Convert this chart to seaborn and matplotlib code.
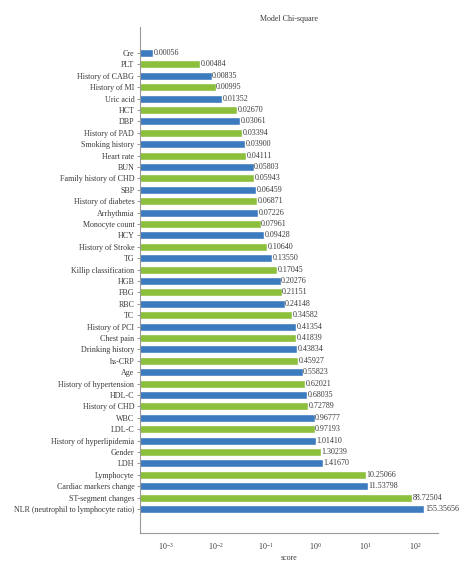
import matplotlib
matplotlib.use("Agg")
import matplotlib.pyplot as plt
import seaborn as sns
import pandas as pd
from matplotlib.ticker import LogLocator

features = ["Cre", "PLT", "History of CABG", "History of MI", "Uric acid", "HCT", "DBP",
            "History of PAD", "Smoking history", "Heart rate", "BUN", "Family history of CHD",
            "SBP", "History of diabetes", "Arrhythmia", "Monocyte count", "HCY",
            "History of Stroke", "TG", "Killip classification", "HGB", "FBG", "RBC", "TC",
            "History of PCI", "Chest pain", "Drinking history", "hs-CRP", "Age",
            "History of hypertension", "HDL-C", "History of CHD", "WBC", "LDL-C",
            "History of hyperlipidemia", "Gender", "LDH", "Lymphocyte",
            "Cardiac markers change", "ST-segment changes",
            "NLR (neutrophil to lymphocyte ratio)"]
scores = [0.00056, 0.00484, 0.00835, 0.00995, 0.01352, 0.02670, 0.03061, 0.03394, 0.03900,
          0.04111, 0.05803, 0.05943, 0.06459, 0.06871, 0.07226, 0.07961, 0.09428, 0.10640,
          0.13550, 0.17045, 0.20276, 0.21151, 0.24148, 0.34582, 0.41354, 0.41839, 0.43834,
          0.45927, 0.55823, 0.62021, 0.68035, 0.72789, 0.96777, 0.97193, 1.01410, 1.30239,
          1.41670, 10.25066, 11.53798, 88.72504, 155.35656]
score_labels = ["0.00056", "0.00484", "0.00835", "0.00995", "0.01352", "0.02670", "0.03061",
                "0.03394", "0.03900", "0.04111", "0.05803", "0.05943", "0.06459", "0.06871",
                "0.07226", "0.07961", "0.09428", "0.10640", "0.13550", "0.17045", "0.20276",
                "0.21151", "0.24148", "0.34582", "0.41354", "0.41839", "0.43834", "0.45927",
                "0.55823", "0.62021", "0.68035", "0.72789", "0.96777", "0.97193", "1.01410",
                "1.30239", "1.41670", "10.25066", "11.53798", "88.72504", "155.35656"]

BLUE = "#3d7bbf"
GREEN = "#8cc03c"
TXT = "#3a3a3a"
FS = 5.8

sns.set_style("white")
plt.rcParams['font.family'] = ['Liberation Serif', 'DejaVu Serif']
plt.rcParams['mathtext.fontset'] = 'stix'

df = pd.DataFrame({"feature": features, "score": scores})
palette = {f: (BLUE if i % 2 == 0 else GREEN) for i, f in enumerate(features)}

fig = plt.figure(figsize=(4.74, 5.73), dpi=100)
ax = fig.add_axes([0.295, 0.0698, 0.629, 0.883])
ax.set_xscale("log")
sns.barplot(data=df, x="score", y="feature", hue="feature", palette=palette,
            legend=False, orient="h", width=0.7, saturation=1, ax=ax)

for i, (v, s) in enumerate(zip(scores, score_labels)):
    ax.text(v * 1.02, i, s, va="center", ha="left", fontsize=FS, color=TXT)

ax.set_xlim(3.0e-4, 290)
ax.set_ylim(40 + 2.1, -2.28)
ax.xaxis.set_major_locator(LogLocator(base=10, numticks=10))
ax.xaxis.set_minor_locator(LogLocator(base=10, subs=range(2, 10), numticks=100))
ax.tick_params(axis="x", which="major", direction="in", length=3, width=0.6,
               colors="#888888", labelcolor=TXT, labelsize=FS, pad=6)
ax.tick_params(axis="x", which="minor", direction="in", length=1.8, width=0.5,
               colors="#888888")
ax.tick_params(axis="y", which="major", direction="out", length=2.5, width=0.6,
               colors="#888888", labelcolor=TXT, labelsize=FS, pad=1.5, left=True)
for side in ["top", "right"]:
    ax.spines[side].set_visible(False)
for side in ["left", "bottom"]:
    ax.spines[side].set_color("#999999")
    ax.spines[side].set_linewidth(0.8)

ax.set_ylabel("")
ax.set_xlabel("score", fontsize=FS, color=TXT, labelpad=1)
ax.set_title("Model Chi-square", fontsize=FS, color=TXT, pad=4)

fig.savefig("out.png", dpi=100, facecolor="white")
